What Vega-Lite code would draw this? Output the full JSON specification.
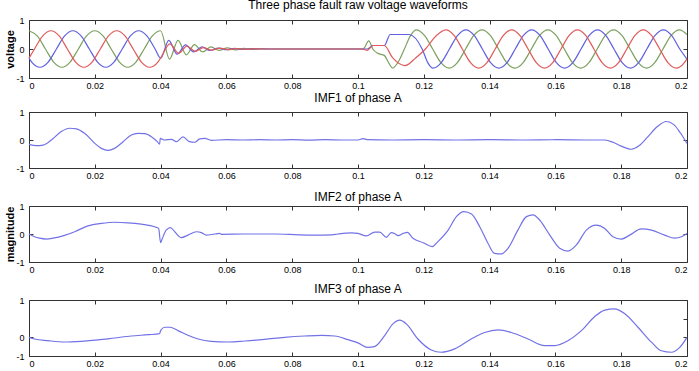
{
 "$schema": "https://vega.github.io/schema/vega-lite/v6.json",
 "padding": {"left": 4, "top": -2, "right": 2, "bottom": 0},
 "background": "white",
 "config": {
  "font": "Liberation Sans",
  "view": {"stroke": "#333", "strokeWidth": 1},
  "axis": {"grid": false, "domain": false, "tickSize": -4, "tickColor": "#333", "labelFontSize": 9, "labelColor": "#000", "labelFont": "Liberation Sans", "titleFont": "Liberation Sans", "titleFontSize": 11, "titleFontWeight": "bold", "titleColor": "#000"},
  "axisX": {"labelPadding": 7},
  "axisY": {"labelPadding": 9},
  "title": {"fontSize": 12, "fontWeight": "normal", "font": "Liberation Sans", "color": "#000", "frame": "group"},
  "line": {"strokeWidth": 1.2, "interpolate": "monotone"}
 },
 "datasets": {
  "v3": [
   {"t":0,"v":0.63,"p":"G"},{"t":0.0025,"v":0.45,"p":"G"},{"t":0.005,"v":0,"p":"G"},{"t":0.0075,"v":-0.45,"p":"G"},{"t":0.01,"v":-0.63,"p":"G"},{"t":0.0125,"v":-0.45,"p":"G"},{"t":0.015,"v":0,"p":"G"},{"t":0.0175,"v":0.45,"p":"G"},{"t":0.02,"v":0.63,"p":"G"},{"t":0.0225,"v":0.45,"p":"G"},{"t":0.025,"v":0,"p":"G"},{"t":0.0275,"v":-0.45,"p":"G"},{"t":0.03,"v":-0.63,"p":"G"},{"t":0.0325,"v":-0.45,"p":"G"},{"t":0.035,"v":0,"p":"G"},{"t":0.0375,"v":0.45,"p":"G"},{"t":0.04,"v":0.63,"p":"G"},{"t":0.0427,"v":-0.35,"p":"G"},{"t":0.0453,"v":0.3,"p":"G"},{"t":0.0478,"v":-0.2,"p":"G"},{"t":0.0503,"v":0.15,"p":"G"},{"t":0.0528,"v":-0.1,"p":"G"},{"t":0.0553,"v":0.07,"p":"G"},{"t":0.0578,"v":-0.05,"p":"G"},{"t":0.0603,"v":0.04,"p":"G"},{"t":0.0628,"v":-0.03,"p":"G"},{"t":0.0653,"v":0.02,"p":"G"},{"t":0.068,"v":-0.015,"p":"G"},{"t":0.0705,"v":0.01,"p":"G"},{"t":0.073,"v":0,"p":"G"},{"t":0.1015,"v":0,"p":"G"},{"t":0.1033,"v":0.28,"p":"G"},{"t":0.1045,"v":0,"p":"G"},{"t":0.106,"v":-0.15,"p":"G"},{"t":0.108,"v":-0.22,"p":"G"},{"t":0.1092,"v":-0.45,"p":"G"},{"t":0.1105,"v":-0.66,"p":"G"},{"t":0.1122,"v":-0.45,"p":"G"},{"t":0.1141,"v":0,"p":"G"},{"t":0.116,"v":0.47,"p":"G"},{"t":0.1177,"v":0.66,"p":"G"},{"t":0.1202,"v":0.47,"p":"G"},{"t":0.1227,"v":0,"p":"G"},{"t":0.1252,"v":-0.47,"p":"G"},{"t":0.1277,"v":-0.66,"p":"G"},{"t":0.1302,"v":-0.47,"p":"G"},{"t":0.1327,"v":0,"p":"G"},{"t":0.1352,"v":0.47,"p":"G"},{"t":0.1377,"v":0.66,"p":"G"},{"t":0.1402,"v":0.47,"p":"G"},{"t":0.1427,"v":0,"p":"G"},{"t":0.1452,"v":-0.47,"p":"G"},{"t":0.1477,"v":-0.66,"p":"G"},{"t":0.1502,"v":-0.47,"p":"G"},{"t":0.1527,"v":0,"p":"G"},{"t":0.1552,"v":0.47,"p":"G"},{"t":0.1577,"v":0.66,"p":"G"},{"t":0.1602,"v":0.47,"p":"G"},{"t":0.1627,"v":0,"p":"G"},{"t":0.1652,"v":-0.47,"p":"G"},{"t":0.1677,"v":-0.66,"p":"G"},{"t":0.1702,"v":-0.47,"p":"G"},{"t":0.1727,"v":0,"p":"G"},{"t":0.1752,"v":0.47,"p":"G"},{"t":0.1777,"v":0.66,"p":"G"},{"t":0.1802,"v":0.47,"p":"G"},{"t":0.1827,"v":0,"p":"G"},{"t":0.1852,"v":-0.47,"p":"G"},{"t":0.1877,"v":-0.66,"p":"G"},{"t":0.1902,"v":-0.47,"p":"G"},{"t":0.1927,"v":0,"p":"G"},{"t":0.1952,"v":0.47,"p":"G"},{"t":0.1977,"v":0.66,"p":"G"},{"t":0.2,"v":0.5,"p":"G"},
   {"t":0,"v":-0.315,"p":"B"},{"t":0.00083,"v":-0.45,"p":"B"},{"t":0.00333,"v":-0.63,"p":"B"},{"t":0.00583,"v":-0.45,"p":"B"},{"t":0.00833,"v":0,"p":"B"},{"t":0.01083,"v":0.45,"p":"B"},{"t":0.01333,"v":0.63,"p":"B"},{"t":0.01583,"v":0.45,"p":"B"},{"t":0.01833,"v":0,"p":"B"},{"t":0.02083,"v":-0.45,"p":"B"},{"t":0.02333,"v":-0.63,"p":"B"},{"t":0.02583,"v":-0.45,"p":"B"},{"t":0.02833,"v":0,"p":"B"},{"t":0.03083,"v":0.45,"p":"B"},{"t":0.03333,"v":0.63,"p":"B"},{"t":0.03583,"v":0.45,"p":"B"},{"t":0.03833,"v":0,"p":"B"},{"t":0.04,"v":-0.315,"p":"B"},{"t":0.0425,"v":0.3,"p":"B"},{"t":0.045,"v":-0.18,"p":"B"},{"t":0.0476,"v":0.14,"p":"B"},{"t":0.05,"v":-0.1,"p":"B"},{"t":0.0526,"v":0.07,"p":"B"},{"t":0.055,"v":-0.05,"p":"B"},{"t":0.0576,"v":0.035,"p":"B"},{"t":0.06,"v":-0.025,"p":"B"},{"t":0.0626,"v":0.02,"p":"B"},{"t":0.065,"v":-0.015,"p":"B"},{"t":0.0676,"v":0.01,"p":"B"},{"t":0.07,"v":0,"p":"B"},{"t":0.1028,"v":0,"p":"B"},{"t":0.1046,"v":0.12,"p":"B"},{"t":0.108,"v":0.12,"p":"B"},{"t":0.1098,"v":0.5,"p":"B"},{"t":0.1155,"v":0.5,"p":"B"},{"t":0.1195,"v":0,"p":"B"},{"t":0.1212,"v":-0.47,"p":"B"},{"t":0.1228,"v":-0.66,"p":"B"},{"t":0.1253,"v":-0.47,"p":"B"},{"t":0.1278,"v":0,"p":"B"},{"t":0.1303,"v":0.47,"p":"B"},{"t":0.1328,"v":0.66,"p":"B"},{"t":0.1353,"v":0.47,"p":"B"},{"t":0.1378,"v":0,"p":"B"},{"t":0.1403,"v":-0.47,"p":"B"},{"t":0.1428,"v":-0.66,"p":"B"},{"t":0.1453,"v":-0.47,"p":"B"},{"t":0.1478,"v":0,"p":"B"},{"t":0.1503,"v":0.47,"p":"B"},{"t":0.1528,"v":0.66,"p":"B"},{"t":0.1553,"v":0.47,"p":"B"},{"t":0.1578,"v":0,"p":"B"},{"t":0.1603,"v":-0.47,"p":"B"},{"t":0.1628,"v":-0.66,"p":"B"},{"t":0.1653,"v":-0.47,"p":"B"},{"t":0.1678,"v":0,"p":"B"},{"t":0.1703,"v":0.47,"p":"B"},{"t":0.1728,"v":0.66,"p":"B"},{"t":0.1753,"v":0.47,"p":"B"},{"t":0.1778,"v":0,"p":"B"},{"t":0.1803,"v":-0.47,"p":"B"},{"t":0.1828,"v":-0.66,"p":"B"},{"t":0.1853,"v":-0.47,"p":"B"},{"t":0.1878,"v":0,"p":"B"},{"t":0.1903,"v":0.47,"p":"B"},{"t":0.1928,"v":0.66,"p":"B"},{"t":0.1953,"v":0.47,"p":"B"},{"t":0.1978,"v":0,"p":"B"},{"t":0.2,"v":-0.35,"p":"B"},
   {"t":0,"v":-0.315,"p":"R"},{"t":0.00167,"v":0,"p":"R"},{"t":0.00417,"v":0.45,"p":"R"},{"t":0.00667,"v":0.63,"p":"R"},{"t":0.00917,"v":0.45,"p":"R"},{"t":0.01167,"v":0,"p":"R"},{"t":0.01417,"v":-0.45,"p":"R"},{"t":0.01667,"v":-0.63,"p":"R"},{"t":0.01917,"v":-0.45,"p":"R"},{"t":0.02167,"v":0,"p":"R"},{"t":0.02417,"v":0.45,"p":"R"},{"t":0.02667,"v":0.63,"p":"R"},{"t":0.02917,"v":0.45,"p":"R"},{"t":0.03167,"v":0,"p":"R"},{"t":0.03417,"v":-0.45,"p":"R"},{"t":0.03667,"v":-0.63,"p":"R"},{"t":0.03917,"v":-0.45,"p":"R"},{"t":0.04,"v":-0.315,"p":"R"},{"t":0.0428,"v":0.18,"p":"R"},{"t":0.0455,"v":-0.15,"p":"R"},{"t":0.048,"v":0.1,"p":"R"},{"t":0.0505,"v":-0.08,"p":"R"},{"t":0.053,"v":0.05,"p":"R"},{"t":0.0555,"v":-0.04,"p":"R"},{"t":0.058,"v":0.03,"p":"R"},{"t":0.0605,"v":-0.02,"p":"R"},{"t":0.063,"v":0.015,"p":"R"},{"t":0.0655,"v":-0.01,"p":"R"},{"t":0.068,"v":0.005,"p":"R"},{"t":0.071,"v":0,"p":"R"},{"t":0.1015,"v":0,"p":"R"},{"t":0.1028,"v":-0.05,"p":"R"},{"t":0.1046,"v":0.12,"p":"R"},{"t":0.108,"v":0.12,"p":"R"},{"t":0.1105,"v":-0.3,"p":"R"},{"t":0.1143,"v":-0.57,"p":"R"},{"t":0.1176,"v":-0.3,"p":"R"},{"t":0.1205,"v":0,"p":"R"},{"t":0.1237,"v":0.45,"p":"R"},{"t":0.1267,"v":0.66,"p":"R"},{"t":0.1292,"v":0.47,"p":"R"},{"t":0.1317,"v":0,"p":"R"},{"t":0.1342,"v":-0.47,"p":"R"},{"t":0.1367,"v":-0.66,"p":"R"},{"t":0.1392,"v":-0.47,"p":"R"},{"t":0.1417,"v":0,"p":"R"},{"t":0.1442,"v":0.47,"p":"R"},{"t":0.1467,"v":0.66,"p":"R"},{"t":0.1492,"v":0.47,"p":"R"},{"t":0.1517,"v":0,"p":"R"},{"t":0.1542,"v":-0.47,"p":"R"},{"t":0.1567,"v":-0.66,"p":"R"},{"t":0.1592,"v":-0.47,"p":"R"},{"t":0.1617,"v":0,"p":"R"},{"t":0.1642,"v":0.47,"p":"R"},{"t":0.1667,"v":0.66,"p":"R"},{"t":0.1692,"v":0.47,"p":"R"},{"t":0.1717,"v":0,"p":"R"},{"t":0.1742,"v":-0.47,"p":"R"},{"t":0.1767,"v":-0.66,"p":"R"},{"t":0.1792,"v":-0.47,"p":"R"},{"t":0.1817,"v":0,"p":"R"},{"t":0.1842,"v":0.47,"p":"R"},{"t":0.1867,"v":0.66,"p":"R"},{"t":0.1892,"v":0.47,"p":"R"},{"t":0.1917,"v":0,"p":"R"},{"t":0.1942,"v":-0.47,"p":"R"},{"t":0.1967,"v":-0.66,"p":"R"},{"t":0.1992,"v":-0.47,"p":"R"},{"t":0.2,"v":-0.34,"p":"R"}
  ],
  "imf1": [
   {"t":0,"v":-0.155},{"t":0.0022,"v":-0.2},{"t":0.0043,"v":-0.18},{"t":0.0068,"v":0},{"t":0.0098,"v":0.3},{"t":0.0124,"v":0.42},{"t":0.0144,"v":0.4},{"t":0.0169,"v":0.24},{"t":0.02,"v":-0.12},{"t":0.022,"v":-0.3},{"t":0.024,"v":-0.37},{"t":0.026,"v":-0.3},{"t":0.0286,"v":-0.06},{"t":0.0311,"v":0.18},{"t":0.0331,"v":0.24},{"t":0.0352,"v":0.23},{"t":0.0372,"v":0.12},{"t":0.039,"v":-0.06},{"t":0.0397,"v":-0.15},{"t":0.0399,"v":0.06},{"t":0.0412,"v":0},{"t":0.0433,"v":0.02},{"t":0.0448,"v":-0.06},{"t":0.0468,"v":0.11},{"t":0.0488,"v":-0.06},{"t":0.0504,"v":-0.08},{"t":0.0519,"v":0.04},{"t":0.0534,"v":0.06},{"t":0.0554,"v":-0.01},{"t":0.06,"v":0.01},{"t":0.065,"v":0},{"t":0.07,"v":0.01},{"t":0.075,"v":0},{"t":0.08,"v":0.01},{"t":0.085,"v":-0.005},{"t":0.09,"v":0.01},{"t":0.095,"v":0},{"t":0.1,"v":0},{"t":0.1015,"v":0.05},{"t":0.103,"v":0.01},{"t":0.11,"v":0},{"t":0.12,"v":0.01},{"t":0.13,"v":0},{"t":0.14,"v":0.01},{"t":0.15,"v":0},{"t":0.16,"v":0.01},{"t":0.17,"v":0},{"t":0.175,"v":0},{"t":0.1775,"v":-0.08},{"t":0.18,"v":-0.22},{"t":0.1831,"v":-0.33},{"t":0.1855,"v":-0.2},{"t":0.188,"v":0.1},{"t":0.191,"v":0.48},{"t":0.1937,"v":0.66},{"t":0.196,"v":0.55},{"t":0.198,"v":0.25},{"t":0.2,"v":-0.12}
  ],
  "imf2": [
   {"t":0,"v":0},{"t":0.0017,"v":-0.1},{"t":0.0032,"v":-0.15},{"t":0.0053,"v":-0.18},{"t":0.0073,"v":-0.15},{"t":0.0108,"v":-0.05},{"t":0.0139,"v":0.08},{"t":0.0179,"v":0.29},{"t":0.022,"v":0.38},{"t":0.026,"v":0.42},{"t":0.0301,"v":0.4},{"t":0.0341,"v":0.35},{"t":0.0382,"v":0.26},{"t":0.0394,"v":0.2},{"t":0.04,"v":-0.31},{"t":0.0404,"v":-0.2},{"t":0.0417,"v":0.14},{"t":0.043,"v":0.23},{"t":0.0443,"v":0.08},{"t":0.0463,"v":-0.13},{"t":0.0483,"v":-0.04},{"t":0.0509,"v":0.08},{"t":0.0524,"v":0.05},{"t":0.0539,"v":-0.04},{"t":0.0564,"v":0},{"t":0.0579,"v":0.02},{"t":0.0585,"v":-0.01},{"t":0.065,"v":0},{"t":0.075,"v":0},{"t":0.082,"v":-0.03},{"t":0.087,"v":-0.04},{"t":0.092,"v":-0.03},{"t":0.0939,"v":0},{"t":0.098,"v":0.04},{"t":0.1,"v":0.02},{"t":0.1025,"v":-0.07},{"t":0.1051,"v":0.07},{"t":0.1066,"v":0.07},{"t":0.1086,"v":-0.12},{"t":0.1101,"v":0.05},{"t":0.1111,"v":0.02},{"t":0.1122,"v":-0.06},{"t":0.1137,"v":0.02},{"t":0.115,"v":0.06},{"t":0.1167,"v":-0.15},{"t":0.1198,"v":-0.31},{"t":0.1226,"v":-0.45},{"t":0.1243,"v":-0.27},{"t":0.1274,"v":0.14},{"t":0.1299,"v":0.62},{"t":0.1322,"v":0.8},{"t":0.1345,"v":0.71},{"t":0.137,"v":0.26},{"t":0.1395,"v":-0.33},{"t":0.1415,"v":-0.69},{"t":0.1436,"v":-0.71},{"t":0.1456,"v":-0.51},{"t":0.1486,"v":0.14},{"t":0.1512,"v":0.62},{"t":0.1532,"v":0.68},{"t":0.1552,"v":0.5},{"t":0.1583,"v":-0.04},{"t":0.1613,"v":-0.51},{"t":0.1638,"v":-0.61},{"t":0.1664,"v":-0.39},{"t":0.1694,"v":0.14},{"t":0.1724,"v":0.32},{"t":0.175,"v":0.2},{"t":0.1775,"v":-0.1},{"t":0.18,"v":-0.18},{"t":0.1826,"v":-0.04},{"t":0.1861,"v":0.18},{"t":0.1892,"v":0.14},{"t":0.1932,"v":-0.04},{"t":0.1963,"v":-0.15},{"t":0.1983,"v":-0.1},{"t":0.2,"v":0.02}
  ],
  "imf3": [
   {"t":0,"v":0},{"t":0.0017,"v":-0.045},{"t":0.0058,"v":-0.09},{"t":0.0108,"v":-0.125},{"t":0.0159,"v":-0.107},{"t":0.021,"v":-0.07},{"t":0.026,"v":-0.018},{"t":0.0311,"v":0.036},{"t":0.0362,"v":0.07},{"t":0.0397,"v":0.098},{"t":0.04,"v":0.18},{"t":0.0412,"v":0.27},{"t":0.0428,"v":0.27},{"t":0.0453,"v":0.18},{"t":0.0483,"v":0.054},{"t":0.0514,"v":-0.045},{"t":0.0554,"v":-0.107},{"t":0.0605,"v":-0.125},{"t":0.0656,"v":-0.098},{"t":0.0716,"v":-0.054},{"t":0.0777,"v":0},{"t":0.0838,"v":0.036},{"t":0.0889,"v":0.054},{"t":0.0929,"v":0.036},{"t":0.097,"v":-0.063},{"t":0.1,"v":-0.15},{"t":0.103,"v":-0.27},{"t":0.105,"v":-0.25},{"t":0.1081,"v":0.045},{"t":0.1106,"v":0.36},{"t":0.1127,"v":0.46},{"t":0.1147,"v":0.36},{"t":0.1182,"v":-0.045},{"t":0.1223,"v":-0.34},{"t":0.1253,"v":-0.4},{"t":0.1294,"v":-0.31},{"t":0.1344,"v":-0.045},{"t":0.1385,"v":0.13},{"t":0.1426,"v":0.2},{"t":0.1466,"v":0.13},{"t":0.1517,"v":-0.045},{"t":0.1567,"v":-0.22},{"t":0.1598,"v":-0.22},{"t":0.1638,"v":-0.09},{"t":0.1679,"v":0.18},{"t":0.1719,"v":0.55},{"t":0.175,"v":0.73},{"t":0.178,"v":0.76},{"t":0.1811,"v":0.63},{"t":0.1851,"v":0.27},{"t":0.1892,"v":-0.13},{"t":0.1922,"v":-0.36},{"t":0.1952,"v":-0.4},{"t":0.1978,"v":-0.27},{"t":0.2,"v":0}
  ]
 },
 "bounds": "flush",
 "spacing": 34,
 "vconcat": [
  {
   "title": {"text": "Three phase fault raw voltage waveforms", "offset": 4},
   "width": 658, "height": 58,
   "data": {"name": "v3"},
   "layer": [
    {"mark": {"type": "line"}, "encoding": {
     "x": {"field": "t", "type": "quantitative", "scale": {"domain": [0, 0.2], "nice": false}, "axis": {"values": [0,0.02,0.04,0.06,0.08,0.1,0.12,0.14,0.16,0.18,0.2], "format": "~g", "title": null}},
     "y": {"field": "v", "type": "quantitative", "scale": {"domain": [-1, 1], "nice": false}, "axis": {"values": [-1,0,1], "labelExpr": "datum.value < 0 ? '-1' : format(datum.value, '~g')", "title": "voltage", "titlePadding": 0}},
     "color": {"field": "p", "type": "nominal", "sort": ["G","B","R"], "scale": {"domain": ["G","B","R"], "range": ["#7da05f","#6060e0","#e05a5a"]}, "legend": null}
    }},
    {"mark": {"type": "line", "opacity": 0}, "encoding": {
     "x": {"field": "t", "type": "quantitative", "scale": {"domain": [0, 0.2], "nice": false}, "axis": {"orient": "top", "values": [0,0.02,0.04,0.06,0.08,0.1,0.12,0.14,0.16,0.18,0.2], "labels": false, "title": null}},
     "y": {"field": "v", "type": "quantitative", "scale": {"domain": [-1, 1], "nice": false}, "axis": {"orient": "right", "values": [-1,0,1], "labels": false, "title": null}},
     "detail": {"field": "p"}
    }}
   ],
   "resolve": {"axis": {"x": "independent", "y": "independent"}}
  },
  {
   "bounds": "flush",
   "spacing": 38,
   "vconcat": [
    {
     "title": {"text": "IMF1 of phase A", "offset": 4, "dy": 1},
     "width": 658, "height": 56,
     "data": {"name": "imf1"},
     "layer": [
      {"mark": {"type": "line", "color": "#7272e6"}, "encoding": {
       "x": {"field": "t", "type": "quantitative", "scale": {"domain": [0, 0.2], "nice": false}, "axis": {"values": [0,0.02,0.04,0.06,0.08,0.1,0.12,0.14,0.16,0.18,0.2], "format": "~g", "title": null}},
       "y": {"field": "v", "type": "quantitative", "scale": {"domain": [-1, 1], "nice": false}, "axis": {"values": [-1,0,1], "labelExpr": "datum.value < 0 ? '-1' : format(datum.value, '~g')", "title": null}}
      }},
      {"mark": {"type": "line", "opacity": 0}, "encoding": {
       "x": {"field": "t", "type": "quantitative", "scale": {"domain": [0, 0.2], "nice": false}, "axis": {"orient": "top", "values": [0,0.02,0.04,0.06,0.08,0.1,0.12,0.14,0.16,0.18,0.2], "labels": false, "title": null}},
       "y": {"field": "v", "type": "quantitative", "scale": {"domain": [-1, 1], "nice": false}, "axis": {"orient": "right", "values": [-1,0,1], "labels": false, "title": null}}
      }}
     ],
     "resolve": {"axis": {"x": "independent", "y": "independent"}}
    },
    {
     "title": {"text": "IMF2 of phase A", "offset": 4, "dy": 6},
     "width": 658, "height": 56,
     "data": {"name": "imf2"},
     "layer": [
      {"mark": {"type": "line", "color": "#7272e6"}, "encoding": {
       "x": {"field": "t", "type": "quantitative", "scale": {"domain": [0, 0.2], "nice": false}, "axis": {"values": [0,0.02,0.04,0.06,0.08,0.1,0.12,0.14,0.16,0.18,0.2], "format": "~g", "title": null}},
       "y": {"field": "v", "type": "quantitative", "scale": {"domain": [-1, 1], "nice": false}, "axis": {"values": [-1,0,1], "labelExpr": "datum.value < 0 ? '-1' : format(datum.value, '~g')", "title": "magnitude", "titlePadding": 0}}
      }},
      {"mark": {"type": "line", "opacity": 0}, "encoding": {
       "x": {"field": "t", "type": "quantitative", "scale": {"domain": [0, 0.2], "nice": false}, "axis": {"orient": "top", "values": [0,0.02,0.04,0.06,0.08,0.1,0.12,0.14,0.16,0.18,0.2], "labels": false, "title": null}},
       "y": {"field": "v", "type": "quantitative", "scale": {"domain": [-1, 1], "nice": false}, "axis": {"orient": "right", "values": [-1,0,1], "labels": false, "title": null}}
      }}
     ],
     "resolve": {"axis": {"x": "independent", "y": "independent"}}
    },
    {
     "title": {"text": "IMF3 of phase A", "offset": 4, "dy": 4},
     "width": 658, "height": 56,
     "data": {"name": "imf3"},
     "layer": [
      {"mark": {"type": "line", "color": "#7272e6"}, "encoding": {
       "x": {"field": "t", "type": "quantitative", "scale": {"domain": [0, 0.2], "nice": false}, "axis": {"values": [0,0.02,0.04,0.06,0.08,0.1,0.12,0.14,0.16,0.18,0.2], "format": "~g", "title": null}},
       "y": {"field": "v", "type": "quantitative", "scale": {"domain": [-0.5, 1], "nice": false}, "axis": {"values": [-0.5,0,1], "labelExpr": "datum.value < 0 ? '-1' : format(datum.value, '~g')", "title": null}}
      }},
      {"mark": {"type": "line", "opacity": 0}, "encoding": {
       "x": {"field": "t", "type": "quantitative", "scale": {"domain": [0, 0.2], "nice": false}, "axis": {"orient": "top", "values": [0,0.02,0.04,0.06,0.08,0.1,0.12,0.14,0.16,0.18,0.2], "labels": false, "title": null}},
       "y": {"field": "v", "type": "quantitative", "scale": {"domain": [-0.5, 1], "nice": false}, "axis": {"orient": "right", "values": [-0.5,0,0.5,1], "labels": false, "title": null}}
      }}
     ],
     "resolve": {"axis": {"x": "independent", "y": "independent"}}
    }
   ]
  }
 ]
}
